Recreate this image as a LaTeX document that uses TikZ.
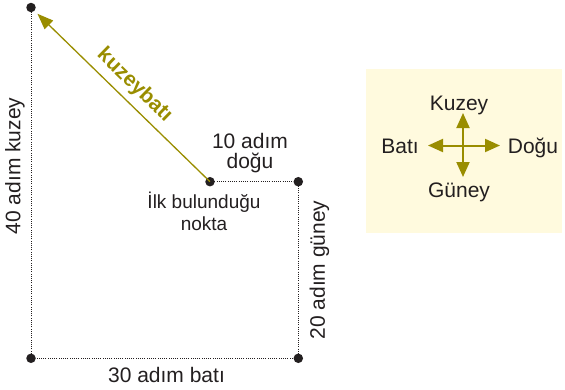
\documentclass[tikz,border=0pt]{standalone}
\usepackage{fontspec}
\setmainfont{Liberation Sans}
\usetikzlibrary{arrows.meta}
\definecolor{olv}{RGB}{153,141,0}
\definecolor{ink}{RGB}{35,31,32}
\definecolor{boxfill}{RGB}{255,250,222}
\begin{document}
\begin{tikzpicture}[x=1pt,y=-1pt,
  dot/.style={circle,fill=ink,inner sep=0pt,minimum size=9.5pt},
  dotline/.style={draw=ink,line width=0.9pt,dash pattern=on 0.9pt off 1.3pt},
  lbl/.style={text=ink,font=\fontsize{21}{20}\selectfont,inner sep=0pt,align=center},
  sml/.style={text=ink,font=\fontsize{19}{22}\selectfont,inner sep=0pt,align=center},
  mainarrow/.style={draw=olv,line width=1.3pt,-{Triangle[length=16pt,width=12pt]}},
  comparrow/.style={draw=olv,line width=2pt,{Triangle[length=15pt,width=13pt]}-{Triangle[length=15pt,width=13pt]}}
]
\useasboundingbox (0,0) rectangle (565,389);

% points
\node[dot] (A) at (31,7.5) {};
\node[dot] (S) at (210,181.7) {};
\node[dot] (R) at (298.3,181.7) {};
\node[dot] (BR) at (298.3,358.3) {};
\node[dot] (BL) at (31,358.3) {};

% dotted path
\draw[dotline] (S.center) -- (R.center) -- (BR.center) -- (BL.center) -- (A.center);

% main arrow
\draw[mainarrow,shorten >=9pt] (S.center) -- (A.center);
\node[rotate=-44.26,text=olv,font=\fontsize{21}{24}\selectfont\bfseries,inner sep=0pt] (kb) at (134.5,85.5) {kuzeybatı};

% labels
\node[lbl,rotate=90] (l40) at (15,166) {40 adım kuzey};
\node[lbl,rotate=90] (l20) at (319.5,270) {20 adım güney};
\node[lbl,anchor=base] (l30) at (166.5,382) {30 adım batı};
\node[lbl,anchor=base] (l10) at (250,168) {10 adım\\doğu};
\node[sml,anchor=base] (lilk) at (204,230) {İlk bulunduğu\\nokta};

% compass box
\fill[boxfill] (366,69) rectangle (562,233);
\coordinate (cn) at (463,113);
\coordinate (cs) at (463,177);
\coordinate (cw) at (428,145.5);
\coordinate (ce) at (500,145.5);
\draw[comparrow] (cw) -- (ce);
\draw[comparrow] (cs) -- (cn);
\node[lbl,anchor=base] (kz) at (459,110) {Kuzey};
\node[lbl,anchor=base] (gn) at (459,197) {Güney};
\node[lbl,anchor=base] (bt) at (400,153) {Batı};
\node[lbl,anchor=base] (dg) at (533,153) {Doğu};
\end{tikzpicture}
\end{document}
